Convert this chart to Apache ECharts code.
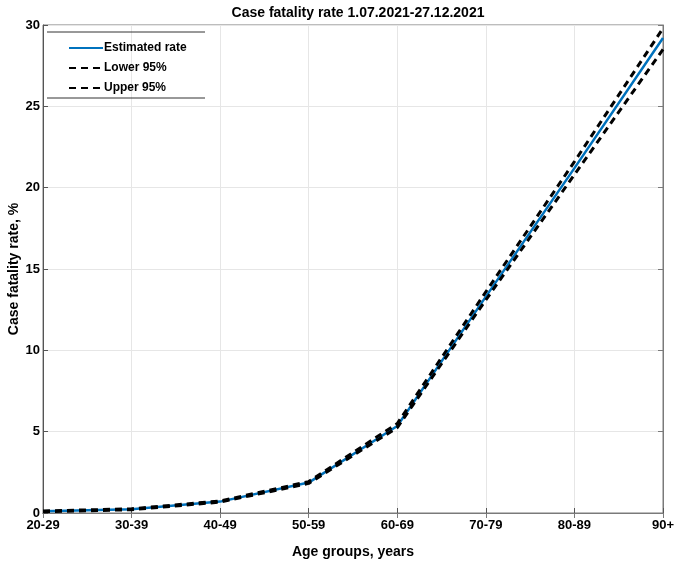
<!DOCTYPE html>
<html>
<head>
<meta charset="utf-8">
<script src="https://cdn.jsdelivr.net/npm/echarts@6/dist/echarts.min.js"></script>
<style>
html,body{margin:0;padding:0;background:#fff;}
#chart{width:674px;height:566px;}
</style>
</head>
<body>
<div id="chart"></div>
<script>
var categories = ['20-29','30-39','40-49','50-59','60-69','70-79','80-89','90+'];
var estimated = [0.10, 0.23, 0.70, 1.87, 5.35, 13.3, 21.2, 29.2];
var lower95   = [0.08, 0.20, 0.67, 1.82, 5.25, 13.1, 20.8, 28.5];
var upper95   = [0.12, 0.26, 0.74, 1.93, 5.50, 13.6, 21.6, 29.8];
var yTicks = { min: 0, max: 30, interval: 5 };

var FONT = '"Liberation Sans", Arial, sans-serif';
var chart = echarts.init(document.getElementById('chart'), null, {renderer: 'canvas'});
var L = 43, R = 11, T = 25, B = 53;
var option = {
  backgroundColor: '#ffffff',
  animation: false,
  title: {
    text: 'Case fatality rate 1.07.2021-27.12.2021',
    left: L + (674 - L - R) / 2, top: 1, textAlign: 'center',
    textStyle: { fontFamily: FONT, fontWeight: 'bold', fontSize: 14, color: '#000' }
  },
  legend: {
    orient: 'vertical', left: 63, top: 37,
    itemWidth: 34, itemHeight: 14, itemGap: 8,
    itemStyle: { color: 'transparent', borderColor: 'transparent', borderWidth: 0, opacity: 0 },
    textStyle: { fontFamily: FONT, fontWeight: 'bold', fontSize: 12, color: '#000', padding: [0,0,0,-4] },
    data: ['Estimated rate', 'Lower 95%', 'Upper 95%']
  },
  graphic: [
    { type: 'line', shape: { x1: 47, y1: 32, x2: 205, y2: 32 }, style: { stroke: '#333', lineWidth: 1 }, z: 100 },
    { type: 'line', shape: { x1: 47, y1: 98, x2: 205, y2: 98 }, style: { stroke: '#333', lineWidth: 1 }, z: 100 }
  ],
  grid: { left: L, right: R, top: T, bottom: B, show: true, borderColor: '#7a7a7a', borderWidth: 1,
          backgroundColor: 'transparent', containLabel: false, outerBoundsMode: 'none' },
  xAxis: [{
    type: 'category', data: categories, boundaryGap: false,
    name: 'Age groups, years', nameLocation: 'middle', nameGap: 32, nameMoveOverlap: false,
    nameTextStyle: { fontFamily: FONT, fontWeight: 'bold', fontSize: 14, color: '#000' },
    axisLine: { show: true, lineStyle: { color: '#555' } },
    axisTick: { show: true, inside: true, length: 5, lineStyle: { color: '#555' } },
    axisLabel: { fontFamily: FONT, fontWeight: 'bold', fontSize: 13, color: '#000', margin: 6, interval: 0 },
    splitLine: { show: true, lineStyle: { color: '#e6e6e6', width: 1 } }
  }, {
    type: 'category', data: categories, boundaryGap: false, position: 'top',
    axisLine: { show: true, lineStyle: { color: '#7a7a7a' } },
    axisTick: { show: true, inside: true, length: 5, lineStyle: { color: '#7a7a7a' } },
    axisLabel: { show: false }, splitLine: { show: false }
  }],
  yAxis: [{
    type: 'value', min: yTicks.min, max: yTicks.max, interval: yTicks.interval,
    name: 'Case fatality rate, %', nameLocation: 'middle', nameGap: 22, nameRotate: 90, nameMoveOverlap: false,
    nameTextStyle: { fontFamily: FONT, fontWeight: 'bold', fontSize: 14, color: '#000' },
    axisLine: { show: true, lineStyle: { color: '#555' } },
    axisTick: { show: true, inside: true, length: 5, lineStyle: { color: '#555' } },
    axisLabel: { fontFamily: FONT, fontWeight: 'bold', fontSize: 13, color: '#000', margin: 3 },
    splitLine: { show: true, lineStyle: { color: '#e6e6e6', width: 1 } }
  }, {
    type: 'value', min: yTicks.min, max: yTicks.max, interval: yTicks.interval, position: 'right',
    axisLine: { show: true, lineStyle: { color: '#7a7a7a' } },
    axisTick: { show: true, inside: true, length: 5, lineStyle: { color: '#7a7a7a' } },
    axisLabel: { show: false }, splitLine: { show: false }
  }],
  series: [
    { name: 'Estimated rate', type: 'line', data: estimated, symbol: 'none', showSymbol: false,
      lineStyle: { color: '#0072BD', width: 2.5 }, itemStyle: { color: '#0072BD' }, z: 2 },
    { name: 'Lower 95%', type: 'line', data: lower95, symbol: 'none', showSymbol: false,
      lineStyle: { color: '#000', width: 3, type: [7, 5] }, itemStyle: { color: '#000' }, z: 3 },
    { name: 'Upper 95%', type: 'line', data: upper95, symbol: 'none', showSymbol: false,
      lineStyle: { color: '#000', width: 3, type: [7, 5] }, itemStyle: { color: '#000' }, z: 3 }
  ]
};
chart.setOption(option);
</script>
</body>
</html>
